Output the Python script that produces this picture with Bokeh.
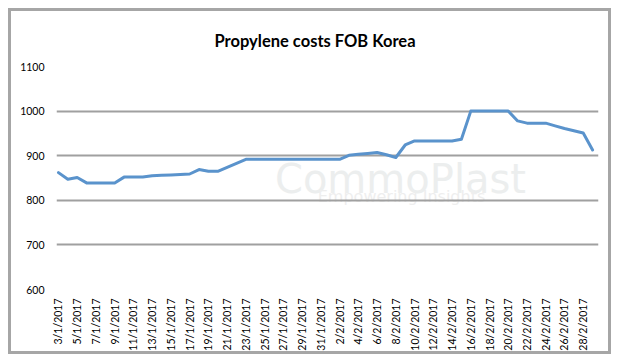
import math
from bokeh.plotting import figure
from bokeh.models import Label, FixedTicker, Range1d, ColumnDataSource
from bokeh.embed import file_html
from bokeh.resources import INLINE

# ---- data -------------------------------------------------------------
dates = [
    "3/1/2017", "4/1/2017", "5/1/2017", "6/1/2017", "7/1/2017", "8/1/2017",
    "9/1/2017", "10/1/2017", "11/1/2017", "12/1/2017", "13/1/2017", "14/1/2017",
    "15/1/2017", "16/1/2017", "17/1/2017", "18/1/2017", "19/1/2017", "20/1/2017",
    "21/1/2017", "22/1/2017", "23/1/2017", "24/1/2017", "25/1/2017", "26/1/2017",
    "27/1/2017", "28/1/2017", "29/1/2017", "30/1/2017", "31/1/2017", "1/2/2017",
    "2/2/2017", "3/2/2017", "4/2/2017", "5/2/2017", "6/2/2017", "7/2/2017",
    "8/2/2017", "9/2/2017", "10/2/2017", "11/2/2017", "12/2/2017", "13/2/2017",
    "14/2/2017", "15/2/2017", "16/2/2017", "17/2/2017", "18/2/2017", "19/2/2017",
    "20/2/2017", "21/2/2017", "22/2/2017", "23/2/2017", "24/2/2017", "25/2/2017",
    "26/2/2017", "27/2/2017", "28/2/2017", "1/3/2017",
]
prices = [
    862, 847, 851, 839, 839, 839, 839, 852, 852, 852,
    855, 856, 857, 858, 859, 869, 865, 865, 874, 883,
    892, 892, 892, 892, 892, 892, 892, 892, 892, 892, 892,
    901, 903, 905, 907, 902, 896,
    924, 933, 933, 933, 933, 933, 937,
    1000, 1000, 1000, 1000, 1000,
    978, 973, 973, 973, 967, 961, 956, 951, 913,
]
y_ticks = [600, 700, 800, 900, 1000, 1100]
title_text = "Propylene costs FOB Korea"
watermark = "CommoPlast"
watermark_sub = "Empowering Insights"

idx = list(range(len(prices)))
source = ColumnDataSource(dict(x=idx, price=prices))

W, H = 603, 346
p = figure(
    width=W, height=H, output_backend="svg", toolbar_location=None,
    x_range=Range1d(-0.21, 57.63), y_range=Range1d(600, 1100),
    min_border_left=45, min_border_right=16, min_border_top=55, min_border_bottom=68,
)
p.styles = {"border": "3px solid #a6a6a6", "margin": "8px 0 0 8px"}
p.outline_line_color = None
p.background_fill_color = "white"
p.border_fill_color = "white"

# title
p.title.text = title_text
p.title.align = "left"
p.title.offset = 158
p.title.standoff = 31
p.title.text_font = "Lato"
p.title.text_font_style = "bold"
p.title.text_font_size = "16.5px"
p.title.text_color = "#000000"

# watermark (behind grid); screen units are relative to the plot frame
p.add_layout(Label(x=344, y=111, x_units="screen", y_units="screen",
                   text=watermark, text_font="DejaVu Sans", text_font_size="40px",
                   text_color="#eceeee", text_align="center", text_baseline="alphabetic",
                   level="image"))
p.add_layout(Label(x=345, y=93, x_units="screen", y_units="screen",
                   text=watermark_sub, text_font="DejaVu Sans", text_font_size="16px",
                   text_color="#eeeeee", text_align="center", text_baseline="alphabetic",
                   level="image"))

p.line("x", "price", source=source, line_color="#5a93cc", line_width=3,
       line_join="round", line_cap="round")

# y axis
p.yaxis.ticker = FixedTicker(ticks=y_ticks)
p.yaxis.axis_line_color = None
p.yaxis.major_tick_line_color = None
p.yaxis.minor_tick_line_color = None
p.yaxis.major_tick_out = 0
p.yaxis.major_label_standoff = 12
p.yaxis.major_label_text_font = "Lato"
p.yaxis.major_label_text_font_size = "10.5px"
p.yaxis.major_label_text_color = "#000000"

# x axis
even = idx[::2]
p.xaxis.ticker = FixedTicker(ticks=even)
p.xaxis.major_label_overrides = {i: dates[i] for i in even}
p.xaxis.major_label_orientation = math.pi / 2
p.xaxis.axis_line_color = None
p.xaxis.major_tick_line_color = None
p.xaxis.minor_tick_line_color = None
p.xaxis.major_tick_out = 0
p.xaxis.major_label_standoff = 9
p.xaxis.major_label_text_font = "Lato"
p.xaxis.major_label_text_font_size = "10.5px"
p.xaxis.major_label_text_color = "#000000"

p.xgrid.grid_line_color = None
p.ygrid.ticker = FixedTicker(ticks=y_ticks)
p.ygrid.grid_line_color = "#a0a0a0"
p.ygrid.grid_line_width = 2

open("out.html", "w").write(file_html(p, INLINE))
